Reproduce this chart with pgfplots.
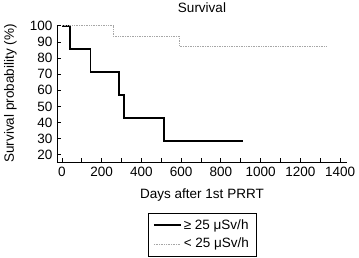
\documentclass[border=0pt]{standalone}
\usepackage{pgfplots}
\pgfplotsset{compat=1.18}
\usepackage{fontspec}
\setmainfont{Liberation Sans}
\newcommand{\f}{\fontsize{13.5}{15}\selectfont}
\begin{document}
\f
\begin{tikzpicture}
\begin{axis}[
  name=ax,
  scale only axis,
  width=290pt, height=137pt,
  xmin=-25, xmax=1435,
  ymin=15.5, ymax=100.5,
  axis lines*=left,
  axis line style={line width=0.9pt},
  tick style={black, line width=0.8pt},
  tick align=inside,
  major tick length=4pt,
  minor tick length=4pt,
  xtick={0,200,...,1400},
  minor xtick={100,300,...,1300},
  ytick={20,30,...,100},
  /pgf/number format/assume math mode=true,
  /pgf/number format/1000 sep={},
  tick label style={font=\f},
  label style={font=\f},
  title={Survival},
  title style={font=\f, yshift=2pt},
  xlabel={Days after 1st PRRT},
  ylabel={Survival probability (\%)},
  xlabel style={yshift=-3pt},
  ylabel style={yshift=4pt},
  legend image code/.code={\draw[#1] (0pt,0pt) -- (27pt,0pt);},
  legend style={at={(0.5,-0.372)}, anchor=north, draw=black, line width=0.8pt,
    font=\f, legend cell align=left,
    row sep=3pt, inner xsep=5pt, inner ysep=4pt},
]
\addplot[black, line width=1.8pt, const plot] coordinates {
(0,100) (40,85.7) (144,71.4) (287,57.1) (312,42.9) (515,28.6) (910,28.6)};
\addlegendentry{≥ 25 μSv/h\hspace{12pt}}
\addplot[gray!70, line width=0.7pt, densely dotted, const plot] coordinates {
(0,100) (257,93.75) (589,87.5) (1328,87.5)};
\addlegendentry{< 25 μSv/h\hspace{12pt}}
\end{axis}
\pgfresetboundingbox
\path ([shift={(-57pt,-96pt)}]ax.south west) rectangle ([shift={(12pt,25pt)}]ax.north east);
\end{tikzpicture}
\end{document}
